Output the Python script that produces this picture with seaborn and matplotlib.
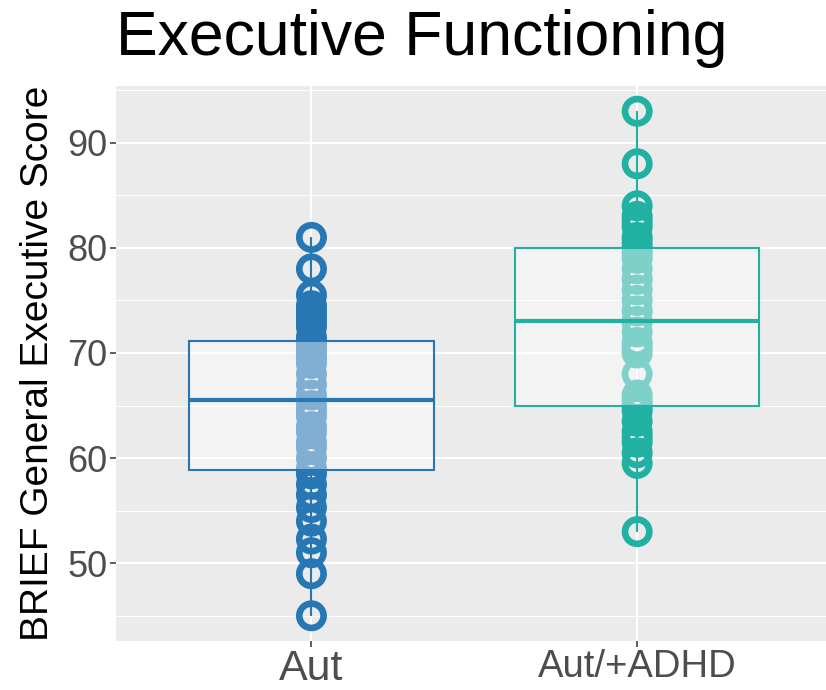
import seaborn as sns
import pandas as pd
import numpy as np
import matplotlib.pyplot as plt
from matplotlib.ticker import MultipleLocator

# Scores (BRIEF General Executive)
aut_scores = [45, 49, 51, 52.3, 54, 55.3, 56.5, 57.5, 58.5,
              59, 60, 61, 61.5, 62.5, 63, 64, 64.5, 65,
              66, 67, 68, 69, 69.5, 70, 70.5, 71, 71, 71.5,
              72.5, 73, 73.5, 74, 74.5, 75.5, 78, 81]
adhd_scores = [53, 59.5, 60.5, 61.5, 62, 62.5, 63.5, 64.5, 65, 65.5,
               66, 68, 70, 70.5, 71, 72, 73, 74, 75, 76, 77, 78,
               79, 79.5, 80, 80.5, 81, 82, 82.5, 83, 84, 88, 93]
groups = ["Aut", "Aut/+ADHD"]
colors = ["#2677b4", "#21b1a3"]

df = pd.DataFrame({
    "group": [groups[0]] * len(aut_scores) + [groups[1]] * len(adhd_scores),
    "score": aut_scores + adhd_scores,
})

sns.set_theme(style="darkgrid", rc={
    "axes.facecolor": "#ebebeb",
    "grid.color": "white",
    "figure.facecolor": "white",
})
plt.rcParams['font.family'] = ['Liberation Sans', 'DejaVu Sans']

fig = plt.figure(figsize=(8.26, 6.9), dpi=100)
ax = fig.add_axes([116 / 826, 49 / 690, 716.6 / 826, 555 / 690])

pal = dict(zip(groups, colors))

# hollow points along the centre line
sns.stripplot(data=df, x="group", y="score", hue="group", palette=pal,
              jitter=False, size=17.5, legend=False, ax=ax, zorder=1)
for coll in ax.collections:
    fc = coll.get_facecolors()
    coll.set_edgecolors(fc)
    coll.set_facecolors("none")
    coll.set_linewidths(4.8)

# box on top with a see-through white fill
sns.boxplot(data=df, x="group", y="score", hue="group", palette=pal,
            fill=True, width=0.75, showcaps=False, linewidth=1.5,
            medianprops={"linewidth": 3}, legend=False, ax=ax)
for p in ax.patches:
    verts = p.get_path().vertices
    i = int(round(verts[:, 0].mean()))
    p.set_facecolor((1, 1, 1, 0.42))
    p.set_edgecolor(colors[i])
    p.set_linewidth(1.5)
    p.set_zorder(2)
for ln in ax.lines:
    xd = np.asarray(ln.get_xdata(), dtype=float)
    if len(xd):
        i = int(round(np.mean(xd)))
        ln.set_color(colors[i])
    ln.set_zorder(3)

lo, hi = min(aut_scores + adhd_scores), max(aut_scores + adhd_scores)
pad = 0.05 * (hi - lo)
ax.set_ylim(lo - pad, hi + pad)
ax.set_xlim(-0.6, 1.6)

ax.yaxis.set_major_locator(MultipleLocator(10))
ax.yaxis.set_minor_locator(MultipleLocator(5))
ax.grid(which="major", color="white", linewidth=1.5)
ax.grid(which="minor", axis="y", color="white", linewidth=0.7)
ax.set_axisbelow(True)
for s in ax.spines.values():
    s.set_visible(False)

ax.tick_params(axis="both", which="major", length=4, width=1.1, color="#333333",
               labelcolor="#4d4d4d", labelsize=26, pad=2, bottom=True, left=True)
ax.tick_params(axis="y", which="minor", length=0)
ax.set_xticks([0, 1])
ax.set_xticklabels(groups)
xt = ax.get_xticklabels()
xt[0].set_fontsize(31)
xt[1].set_fontsize(27.5)

ax.set_xlabel("")
ax.set_ylabel("BRIEF General Executive Score", fontsize=28, color="black", labelpad=8)
ax.set_title("Executive Functioning", loc="left", fontsize=45, color="black", pad=22)

fig.savefig("out.png", dpi=100)
